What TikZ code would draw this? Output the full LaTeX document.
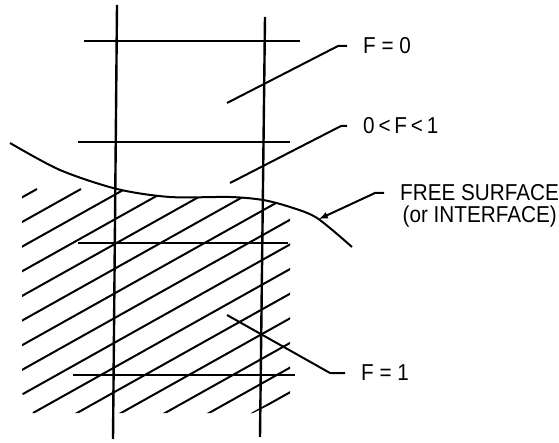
\documentclass[tikz,border=0pt]{standalone}
\usepackage{fontspec}
\setmainfont{Liberation Sans}[FakeStretch=0.9]

\begin{document}
\begin{tikzpicture}[
    x=1pt, y=-1pt,
    grid/.style={draw, line width=2.4pt},
    hatch/.style={draw, line width=2pt},
    lead/.style={draw, line width=2pt},
    line/.style={draw, -latex, line width=2pt},
    txt/.style={font=\fontsize{23}{27}\selectfont},
    tag/.style={txt, anchor=west, inner xsep=16pt, inner ysep=0pt}
]
\useasboundingbox (0,0) rectangle (559,443);

\def\surf{(10,143) (60,170) (117,189) (170,197) (230,197) (263,200) (290,207) (317,218) (352,247)}

\begin{scope}
\clip (22,120) -- (22,393) -- (33,413) -- (253,413) -- (290,395) -- (290,120) -- cycle;
\clip plot[smooth] coordinates {\surf} -- (352,450) -- (0,450) -- cycle;
\foreach \k in {-12,...,6}
    \path [hatch] ({-67+44*\k},469) -- ++(500,-280);
\end{scope}

\path [grid] (117,5) -- (113,439);
\path [grid] (265,17) -- (260,437);
\path [grid] (84,41) -- (300,41);
\path [grid] (78,142) -- (290,142);
\path [grid] (78,243) -- (288,243);
\path [grid] (73,375) -- (295,375);

\path [lead] plot[smooth] coordinates {\surf};

\coordinate (c0) at (227,103);
\coordinate (c1) at (230,183);
\coordinate (c2) at (319,219);
\coordinate (c3) at (227,315);

\node [tag] (f0) at (347,46) {F = 0};
\node [tag] (fmid) at (347,126) {0\,<\,F\,<\,1};
\node [tag] (fs) at (384,193) {FREE SURFACE};
\node [txt, anchor=east, inner sep=0pt] (fsb) at (557,217) {(or INTERFACE)};
\node [tag] (f1) at (345,373) {F = 1};

\path [lead] (c0) -- ([xshift=-9pt]f0.west) -- (f0.west);
\path [lead] (c1) -- ([xshift=-6pt]fmid.west) -- (fmid.west);
\path [line] (fs.west) -- ++(-9,0) -- (c2);
\path [lead] (c3) -- ([xshift=-15pt]f1.west) -- (f1.west);

\end{tikzpicture}
\end{document}
